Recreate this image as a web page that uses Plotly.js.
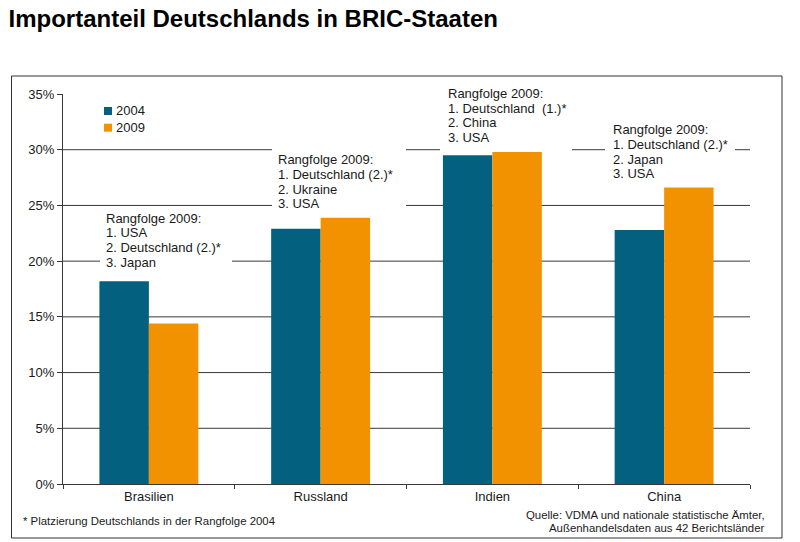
<!DOCTYPE html>
<html>
<head>
<meta charset="utf-8">
<script src="https://cdn.plot.ly/plotly-3.0.1.min.js"></script>
<style>
  html, body { margin: 0; padding: 0; background: #fff; }
  #chart { width: 800px; height: 542px; }
</style>
</head>
<body>
<div id="chart"></div>
<script>
// --- data -------------------------------------------------------------
const countries = ['Brasilien', 'Russland', 'Indien', 'China'];
const share2004 = [18.2, 22.9, 29.5, 22.8];   // German import share, %
const share2009 = [14.4, 23.9, 29.8, 26.6];
const seriesNames = ['2004', '2009'];
const yTicks = [0, 5, 10, 15, 20, 25, 30, 35];
const yTickLabels = ['0%', '5%', '10%', '15%', '20%', '25%', '30%', '35%'];
const gridTicks = [5, 10, 15, 20, 25, 30];

const rankBrasilien = ['Rangfolge 2009:', '1. USA', '2. Deutschland (2.)*', '3. Japan'];
const rankRussland = ['Rangfolge 2009:', '1. Deutschland (2.)*', '2. Ukraine', '3. USA'];
const rankIndien = ['Rangfolge 2009:', '1. Deutschland\u00a0 (1.)*', '2. China', '3. USA'];
const rankChina = ['Rangfolge 2009:', '1. Deutschland (2.)*', '2. Japan', '3. USA'];

const titleText = 'Importanteil Deutschlands in BRIC-Staaten';
const footnoteText = '* Platzierung Deutschlands in der Rangfolge 2004';
const sourceText = ['Quelle: VDMA und nationale statistische Ämter,', 'Außenhandelsdaten aus 42 Berichtsländer'];

// --- style ------------------------------------------------------------
const TEAL = '#03617f';
const ORANGE = '#f39200';
const INK = '#1a1a1a';
const LINE = '#383838';
const FONT = 'Liberation Sans, Arial, sans-serif';

// plot area in pixels
const W = 800, H = 542;
const P = { l: 63, r: 750, t: 94, b: 484 };
const fx = x => (x - P.l) / (P.r - P.l);
const fy = y => (P.b - y) / (P.b - P.t);

// --- rank boxes: white patches over the grid, text line by line --------
const LINE_STEP = 14.8;
const rankBlocks = [
  { lines: rankBrasilien, x: 104, y0: 218, box: [100, 209, 232, 270] },
  { lines: rankRussland,  x: 276, y0: 159.5, box: [272, 146, 406, 208] },
  { lines: rankIndien,    x: 446, y0: 93.3, box: [440, 84, 572, 152] },
  { lines: rankChina,     x: 611, y0: 129.5, box: [605, 120, 735, 182] }
];

const shapes = [];
const annotations = [];

// horizontal grid lines (no line at the 35% top edge)
gridTicks.forEach(v => {
  shapes.push({
    type: 'line', layer: 'below', xref: 'paper', yref: 'y',
    x0: 0, x1: 1, y0: v, y1: v,
    line: { color: LINE, width: 1 }
  });
});

rankBlocks.forEach(b => {
  shapes.push({
    type: 'rect', layer: 'below', xref: 'paper', yref: 'paper',
    x0: fx(b.box[0]), x1: fx(b.box[2]), y0: fy(b.box[3]), y1: fy(b.box[1]),
    fillcolor: '#ffffff', line: { width: 0 }
  });
  b.lines.forEach((t, i) => {
    annotations.push({
      text: t, showarrow: false, xref: 'paper', yref: 'paper',
      x: fx(b.x), y: fy(b.y0 + i * LINE_STEP),
      xanchor: 'left', yanchor: 'middle',
      font: { family: FONT, size: 13, color: INK }
    });
  });
});

// outer frame around the chart
shapes.push({
  type: 'rect', layer: 'above', xref: 'paper', yref: 'paper',
  x0: fx(11.5), x1: fx(782), y0: fy(538), y1: fy(76),
  line: { color: '#333333', width: 1 }, fillcolor: 'rgba(0,0,0,0)'
});

// legend: small squares with labels
const legendRows = [
  { name: seriesNames[0], color: TEAL, y: 111 },
  { name: seriesNames[1], color: ORANGE, y: 127.7 }
];
legendRows.forEach(r => {
  shapes.push({
    type: 'rect', layer: 'above', xref: 'paper', yref: 'paper',
    x0: fx(104), x1: fx(112), y0: fy(r.y + 4), y1: fy(r.y - 4),
    fillcolor: r.color, line: { width: 0 }
  });
  annotations.push({
    text: r.name, showarrow: false, xref: 'paper', yref: 'paper',
    x: fx(113.5), y: fy(r.y), xanchor: 'left', yanchor: 'middle',
    font: { family: FONT, size: 13, color: INK }
  });
});

// footnotes
annotations.push({
  text: footnoteText, showarrow: false, xref: 'paper', yref: 'paper',
  x: fx(21), y: fy(521), xanchor: 'left', yanchor: 'middle',
  font: { family: FONT, size: 11.4, color: INK }
});
sourceText.forEach((t, i) => {
  annotations.push({
    text: t, showarrow: false, xref: 'paper', yref: 'paper',
    x: fx(767), y: fy(515 + i * 13.3), xanchor: 'right', yanchor: 'middle',
    font: { family: FONT, size: 11.4, color: INK }
  });
});

// --- traces -----------------------------------------------------------
const traces = [
  { type: 'bar', name: seriesNames[0], x: countries, y: share2004,
    marker: { color: TEAL, line: { width: 0 } }, hoverinfo: 'x+y+name' },
  { type: 'bar', name: seriesNames[1], x: countries, y: share2009,
    marker: { color: ORANGE, line: { width: 0 } }, hoverinfo: 'x+y+name' }
];

const layout = {
  width: W, height: H,
  margin: { l: P.l, r: W - P.r, t: P.t, b: H - P.b, pad: 0 },
  paper_bgcolor: '#ffffff', plot_bgcolor: '#ffffff',
  showlegend: false,
  barmode: 'group', bargap: 0.424, bargroupgap: 0,
  font: { family: FONT, size: 13, color: INK },
  title: {
    text: titleText, xref: 'container', yref: 'container',
    x: 8.5 / W, y: 1 - 19 / H, xanchor: 'left', yanchor: 'middle',
    font: { family: FONT, size: 24, color: '#000000', weight: 'bold' }
  },
  xaxis: {
    type: 'category', categoryorder: 'array', categoryarray: countries,
    range: [-0.5, 3.5], fixedrange: true,
    showgrid: false, zeroline: false,
    showline: true, linecolor: LINE, linewidth: 1,
    ticks: 'outside', tickson: 'boundaries', ticklen: 4, tickcolor: LINE, tickwidth: 1,
    tickfont: { family: FONT, size: 13, color: INK }
  },
  yaxis: {
    range: [0, 35], fixedrange: true,
    tickmode: 'array', tickvals: yTicks, ticktext: yTickLabels,
    showgrid: false, zeroline: false,
    showline: true, linecolor: LINE, linewidth: 1,
    ticks: 'outside', ticklen: 5, tickcolor: LINE, tickwidth: 1,
    tickfont: { family: FONT, size: 13, color: INK }
  },
  shapes: shapes,
  annotations: annotations
};

Plotly.newPlot('chart', traces, layout, { displayModeBar: false, staticPlot: true });
</script>
</body>
</html>
